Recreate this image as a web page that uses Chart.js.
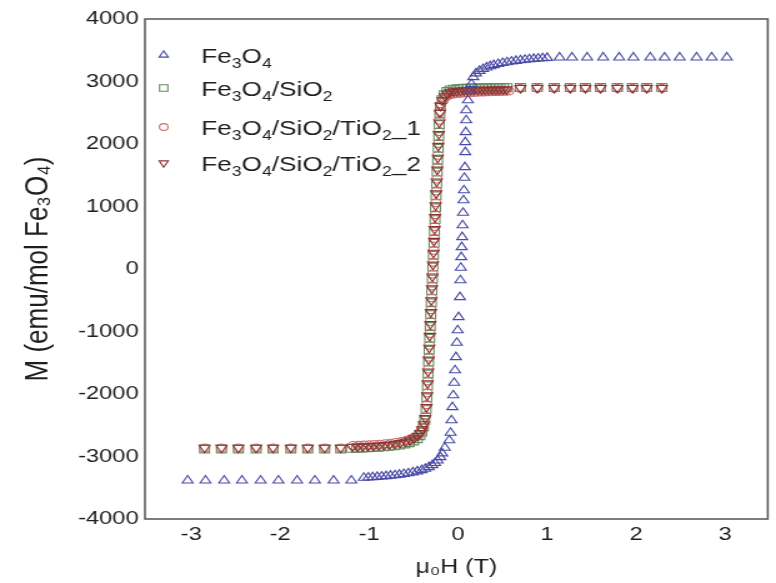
<!DOCTYPE html>
<html>
<head>
<meta charset="utf-8">
<script src="https://cdn.jsdelivr.net/npm/chart.js@4/dist/chart.umd.min.js"></script>
<style>
html,body{margin:0;padding:0;background:#fff;overflow:hidden;width:776px;height:583px;}
#wrap{position:absolute;left:0;top:0;width:621px;height:583px;transform:scaleX(1.2496);transform-origin:0 0;}
</style>
</head>
<body>
<div id="wrap"><canvas id="c"></canvas></div>
<script>
// ---- tick labels ----
const xTicks = [-3, -2, -1, 0, 1, 2, 3];
const yTicks = [-4000, -3000, -2000, -1000, 0, 1000, 2000, 3000, 4000];

// ---- series names ----
const seriesNames = ['Fe₃O₄', 'Fe₃O₄/SiO₂', 'Fe₃O₄/SiO₂/TiO₂_1', 'Fe₃O₄/SiO₂/TiO₂_2'];

// ---- Fe3O4 (field in T, M in emu/mol Fe3O4) ----
const fe3o4H = [
  -3.04,-2.84,-2.63,-2.43,-2.22,-2.02,-1.81,-1.61,-1.40,-1.20,
  -1.06,-1.01,-0.96,-0.91,-0.86,-0.81,-0.76,-0.71,-0.66,-0.61,-0.56,-0.51,-0.46,-0.41,-0.37,-0.33,-0.29,-0.26,-0.23,-0.20,-0.18,-0.15,
  -0.10,-0.085,-0.075,-0.065,-0.055,-0.045,-0.035,-0.025,-0.015,-0.005,0.005,0.02,0.025,0.03,0.035,0.04,0.045,0.05,0.055,0.06,0.065,0.07,0.075,0.08,0.08,0.085,0.09,0.09,
  0.11,0.13,0.15,0.17,0.20,0.24,0.28,0.32,0.36,0.40,0.45,0.50,0.55,0.60,0.65,0.70,0.75,0.80,0.85,0.90,0.95,1.00,
  1.14,1.28,1.45,1.63,1.81,1.97,2.16,2.32,2.49,2.68,2.85,3.02
];
const fe3o4M = [
  -3385,-3385,-3385,-3385,-3385,-3385,-3385,-3385,-3385,-3385,
  -3340,-3336,-3331,-3326,-3320,-3314,-3307,-3300,-3291,-3281,-3268,-3254,-3238,-3218,-3196,-3170,-3138,-3105,-3065,-3010,-2950,-2860,
  -2740,-2620,-2420,-2210,-2020,-1820,-1620,-1410,-1180,-980,-770,-450,-180,20,190,350,510,700,900,1100,1260,1460,1630,1870,2030,2190,2380,2540,
  2700,2850,2960,3070,3130,3170,3200,3225,3245,3262,3280,3295,3308,3320,3330,3340,3348,3355,3362,3368,3373,3378,
  3385,3385,3385,3385,3385,3385,3385,3385,3385,3385,3385,3385
];

// ---- Fe3O4/SiO2 ----
const sio2H = [
  -2.85,-2.66,-2.47,-2.27,-2.08,-1.88,-1.69,-1.50,-1.32,
  -1.20,-1.14,-1.08,-1.02,-0.96,-0.90,-0.84,-0.78,-0.72,-0.66,-0.60,-0.55,-0.50,-0.46,-0.43,-0.41,-0.39,-0.375,
  -0.360,-0.352,-0.345,-0.338,-0.332,-0.326,-0.320,-0.314,-0.308,-0.302,-0.296,-0.290,-0.284,-0.278,-0.272,-0.266,-0.260,-0.254,-0.248,-0.242,-0.236,-0.230,-0.224,-0.218,-0.212,-0.206,-0.200,
  -0.18,-0.155,-0.125,-0.09,-0.05,-0.01,0.03,
  0.07,0.11,0.15,0.19,0.23,0.27,0.31,0.35,0.39,0.43,0.47,0.51,0.55,
  0.70,0.89,1.08,1.26,1.43,1.60,1.79,1.96,2.12,2.29
];
const sio2M = [
  -2880,-2880,-2880,-2880,-2880,-2880,-2880,-2880,-2880,
  -2870,-2867,-2864,-2860,-2856,-2851,-2845,-2838,-2829,-2817,-2800,-2780,-2752,-2715,-2668,-2610,-2530,-2420,
  -2250,-2060,-1870,-1680,-1490,-1300,-1110,-920,-730,-540,-350,-160,30,220,410,600,790,980,1170,1360,1550,1740,1930,2120,2310,2480,2600,
  2710,2790,2840,2865,2878,2885,2890,
  2893,2894,2895,2896,2897,2898,2899,2900,2900,2901,2901,2902,2902,
  2905,2905,2905,2905,2905,2905,2905,2905,2905,2905
];

// ---- Fe3O4/SiO2/TiO2_1 ----
const tio2aH = [
  -2.85,-2.66,-2.47,-2.27,-2.08,-1.88,-1.69,-1.50,-1.32,
  -1.18,-1.12,-1.06,-1.00,-0.94,-0.88,-0.82,-0.76,-0.70,-0.64,-0.58,-0.53,-0.49,-0.45,-0.42,-0.40,-0.38,-0.365,
  -0.352,-0.346,-0.340,-0.334,-0.328,-0.322,-0.316,-0.310,-0.304,-0.298,-0.292,-0.286,-0.280,-0.274,-0.268,-0.262,-0.256,-0.250,-0.244,-0.238,-0.232,-0.226,-0.220,-0.214,-0.208,-0.202,-0.196,
  -0.175,-0.15,-0.12,-0.085,-0.05,-0.015,0.02,0.05,
  0.09,0.13,0.17,0.21,0.25,0.29,0.33,0.37,0.41,0.45,0.49,0.53,0.57,
  0.70,0.89,1.08,1.26,1.43,1.60,1.79,1.96,2.12,2.29
];
const tio2aM = [
  -2865,-2865,-2865,-2865,-2865,-2865,-2865,-2865,-2865,
  -2825,-2822,-2818,-2814,-2809,-2803,-2796,-2787,-2776,-2762,-2742,-2718,-2688,-2650,-2600,-2540,-2455,-2350,
  -2170,-1980,-1790,-1600,-1410,-1220,-1030,-840,-650,-460,-270,-80,110,300,490,680,870,1060,1250,1440,1630,1820,2010,2200,2380,2520,2620,
  2690,2740,2770,2790,2800,2808,2813,2817,
  2820,2823,2826,2829,2831,2833,2835,2837,2839,2841,2843,2845,2847,
  2890,2890,2890,2890,2890,2890,2890,2890,2890,2890
];

// ---- Fe3O4/SiO2/TiO2_2 ----
const tio2bH = [
  -2.85,-2.66,-2.47,-2.27,-2.08,-1.88,-1.69,-1.50,-1.32,
  -1.19,-1.13,-1.07,-1.01,-0.95,-0.89,-0.83,-0.77,-0.71,-0.65,-0.59,-0.54,-0.495,-0.455,-0.425,-0.405,-0.385,-0.37,
  -0.356,-0.349,-0.343,-0.337,-0.331,-0.325,-0.319,-0.313,-0.307,-0.301,-0.295,-0.289,-0.283,-0.277,-0.271,-0.265,-0.259,-0.253,-0.247,-0.241,-0.235,-0.229,-0.223,-0.217,-0.211,-0.205,-0.199,
  -0.178,-0.152,-0.122,-0.088,-0.05,-0.012,0.025,
  0.065,0.105,0.145,0.185,0.225,0.265,0.305,0.345,0.385,0.425,0.465,0.505,0.545,
  0.70,0.89,1.08,1.26,1.43,1.60,1.79,1.96,2.12,2.29
];
const tio2bM = [
  -2860,-2860,-2860,-2860,-2860,-2860,-2860,-2860,-2860,
  -2845,-2842,-2838,-2834,-2829,-2823,-2816,-2808,-2797,-2783,-2764,-2740,-2710,-2672,-2624,-2565,-2485,-2385,
  -2210,-2020,-1830,-1640,-1450,-1260,-1070,-880,-690,-500,-310,-120,70,260,450,640,830,1020,1210,1400,1590,1780,1970,2160,2345,2500,2610,
  2700,2765,2805,2830,2842,2850,2855,
  2858,2860,2862,2864,2866,2867,2868,2869,2870,2871,2872,2873,2874,
  2895,2895,2895,2895,2895,2895,2895,2895,2895,2895
];

const FONT = "'Liberation Sans', Arial, Helvetica, sans-serif";
const TEXT = '#1e1e1e';
const pts = (H, M) => H.map((h, i) => ({ x: h, y: M[i] }));

function drawMarker(ctx, style, r, rot, color, x, y) {
  ctx.save();
  ctx.strokeStyle = color;
  ctx.lineWidth = 1.1;
  ctx.beginPath();
  if (style === 'circle') {
    ctx.arc(x, y, r, 0, Math.PI * 2);
  } else if (style === 'rect') {
    const s = r * Math.SQRT1_2;
    ctx.rect(x - s, y - s, 2 * s, 2 * s);
  } else {
    let a = rot * Math.PI / 180;
    ctx.moveTo(x + Math.sin(a) * r, y - Math.cos(a) * r);
    a += 2 * Math.PI / 3;
    ctx.lineTo(x + Math.sin(a) * r, y - Math.cos(a) * r);
    a += 2 * Math.PI / 3;
    ctx.lineTo(x + Math.sin(a) * r, y - Math.cos(a) * r);
    ctx.closePath();
  }
  ctx.stroke();
  ctx.restore();
}

const SUB = { '₀': '0', '₁': '1', '₂': '2', '₃': '3', '₄': '4', '₅': '5', '₆': '6', '₇': '7', '₈': '8', '₉': '9' };
function drawSubText(ctx, text, x, y, size) {
  ctx.save();
  ctx.fillStyle = TEXT;
  ctx.textBaseline = 'alphabetic';
  ctx.textAlign = 'left';
  for (const ch of text) {
    if (SUB[ch]) {
      ctx.font = Math.round(size * 0.66) + 'px ' + FONT;
      ctx.fillText(SUB[ch], x, y + size * 0.28);
      x += ctx.measureText(SUB[ch]).width;
    } else {
      ctx.font = size + 'px ' + FONT;
      ctx.fillText(ch, x, y);
      x += ctx.measureText(ch).width;
    }
  }
  ctx.restore();
}

const legendRowsY = [55, 88, 127, 163];
const frameAndLegend = {
  id: 'frameAndLegend',
  afterDatasetsDraw(chart) {
    const { ctx, chartArea: a } = chart;
    ctx.save();
    ctx.strokeStyle = '#5e5e5e';
    ctx.lineWidth = 1.6;
    ctx.strokeRect(a.left, a.top, a.right - a.left, a.bottom - a.top);
    ctx.restore();
    chart.data.datasets.forEach((ds, i) => {
      const y = legendRowsY[i];
      drawMarker(ctx, ds.pointStyle, ds.pointRadius * 0.85, ds.pointRotation || 0, ds.borderColor, 131, y);
      drawSubText(ctx, ds.label, 161, y + 7.5, 21);
    });
  }
};

const mk = (label, H, M, color, style, r, rot, order) => ({
  label, data: pts(H, M), order,
  showLine: false,
  pointStyle: style, pointRadius: r, pointRotation: rot,
  borderColor: color, backgroundColor: 'rgba(0,0,0,0)',
  pointBorderWidth: 1.1, pointHoverRadius: r
});

new Chart(document.getElementById('c'), {
  type: 'scatter',
  data: {
    datasets: [
      mk(seriesNames[0], fe3o4H, fe3o4M, '#4a4aa6', 'triangle', 5, 0, 0),
      mk(seriesNames[1], sio2H, sio2M, '#5f8f5f', 'rect', 5.5, 0, 3),
      mk(seriesNames[2], tio2aH, tio2aM, '#d06a6a', 'circle', 4, 0, 2),
      mk(seriesNames[3], tio2bH, tio2bM, '#8c3434', 'triangle', 5, 180, 1)
    ]
  },
  options: {
    responsive: true,
    maintainAspectRatio: false,
    animation: false,
    events: [],
    layout: { padding: { left: 0, right: 3.2, top: 19, bottom: 0 } },
    plugins: { legend: { display: false }, tooltip: { enabled: false } },
    scales: {
      x: {
        type: 'linear', min: -3.52, max: 3.48,
        afterBuildTicks: s => { s.ticks = xTicks.map(v => ({ value: v })); },
        afterFit: s => { s.height = 64; },
        grid: { display: false, drawTicks: false },
        border: { display: false },
        ticks: { color: TEXT, font: { family: FONT, size: 19 }, padding: 4, callback: v => String(v), maxRotation: 0 },
        title: { display: true, text: 'μ₀H (T)', color: TEXT, font: { family: FONT, size: 20 }, padding: { top: 0, bottom: 4 } }
      },
      y: {
        type: 'linear', min: -4000, max: 4000,
        afterBuildTicks: s => { s.ticks = yTicks.map(v => ({ value: v })); },
        afterFit: s => { s.width = 116; },
        grid: { display: false, drawTicks: false },
        border: { display: false },
        ticks: { color: TEXT, font: { family: FONT, size: 19 }, padding: 5, callback: v => String(v) },
        title: { display: true, text: 'M (emu/mol Fe₃O₄)', color: TEXT, font: { family: FONT, size: 26 }, padding: { top: 15.4, bottom: 0 } }
      }
    }
  },
  plugins: [frameAndLegend]
});
</script>
</body>
</html>
